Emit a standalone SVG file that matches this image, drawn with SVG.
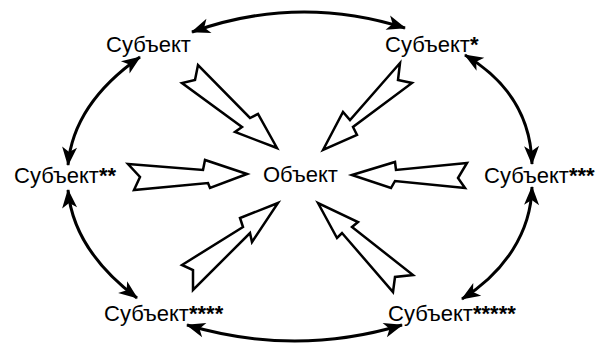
<svg xmlns="http://www.w3.org/2000/svg" width="603" height="345" viewBox="0 0 603 345">
<style>
  .lbl { font-family: "Liberation Sans", Arial, sans-serif; font-size: 22px; fill: #000; }
  .st { font-weight: bold; }
  .arc { fill: none; stroke: #000; stroke-width: 3; marker-start: url(#ah); marker-end: url(#ah); }
  .blk { fill: #fff; stroke: #000; stroke-width: 2.5; stroke-linejoin: miter; }
</style>
<defs>
  <marker id="ah" viewBox="-19 -8 20 16" refX="0" refY="0" markerWidth="20" markerHeight="16" markerUnits="userSpaceOnUse" orient="auto-start-reverse">
    <path d="M1,0 L-18,-7.5 L-13,0 L-18,7.5 Z" fill="#000"/>
  </marker>
</defs>
<rect width="603" height="345" fill="#fff"/>
<g id="connectors">
  <path class="arc" d="M192,32 Q298,-6 405,28"/>
  <path class="arc" d="M187,325 Q295,357 402,325"/>
  <path class="arc" d="M140,57 C100,85 72,120 68,165"/>
  <path class="arc" d="M68,190 C72,235 100,270 137,298"/>
  <path class="arc" d="M465,55 C510,82 531,120 532,164"/>
  <path class="arc" d="M532,187 C531,232 505,272 462,299"/>
  <polygon class="blk" points="247,174 205,160 203,170 128,164 140,177 134,190 208,183 210,188"/>
  <polygon class="blk" points="352,175 395,162 396,170 467,163 458,178 465,188 395,181 391,188"/>
  <polygon class="blk" points="277,148 235,132 242,127 182,83 195,80 198,65 250,118 258,114"/>
  <polygon class="blk" points="323,150 343,112 350,120 400,63 398,80 412,83 353,127 357,135"/>
  <polygon class="blk" points="278,203 240,218 243,227 182,265 193,270 193,290 250,233 252,242"/>
  <polygon class="blk" points="318,203 337,238 342,233 393,292 395,277 413,275 352,227 358,222"/>
</g>
<g id="n-subject"><text class="lbl" x="106" y="52">Субъект</text></g>
<g id="n-subject1"><text class="lbl" x="385" y="52">Субъект<tspan class="st">*</tspan></text></g>
<g id="n-subject2"><text class="lbl" x="14" y="183">Субъект<tspan class="st">**</tspan></text></g>
<g id="n-object"><text class="lbl" x="263" y="182">Объект</text></g>
<g id="n-subject3"><text class="lbl" x="484" y="183">Субъект<tspan class="st">***</tspan></text></g>
<g id="n-subject4"><text class="lbl" x="104" y="321">Субъект<tspan class="st">****</tspan></text></g>
<g id="n-subject5"><text class="lbl" x="388" y="321">Субъект<tspan class="st">*****</tspan></text></g>
</svg>
